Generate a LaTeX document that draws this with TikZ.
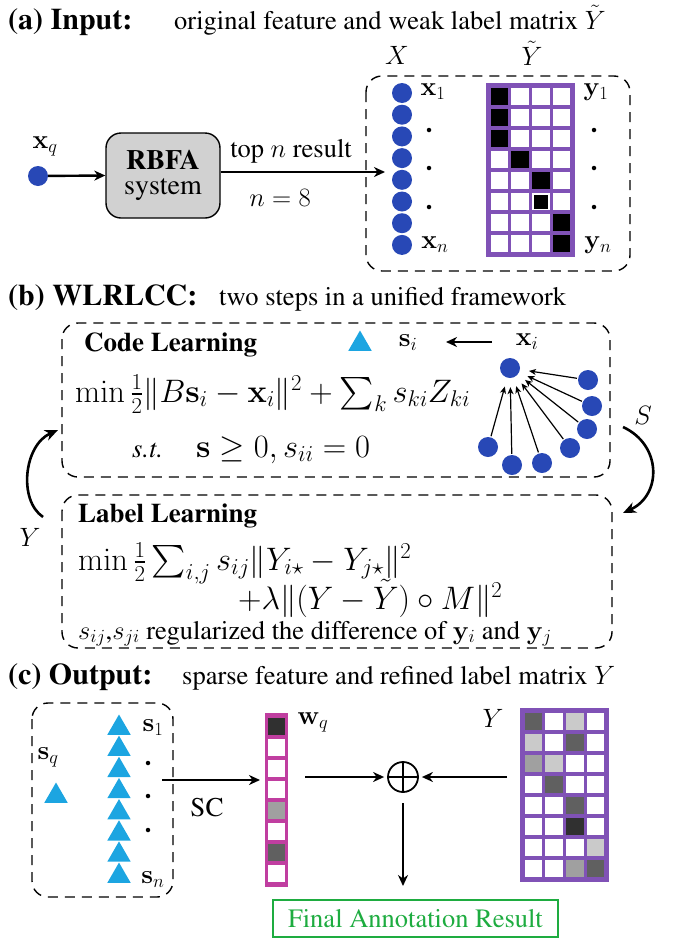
\RequirePackage{fix-cm}
\documentclass[tikz,border=0pt]{standalone}
\usepackage[T1]{fontenc}
\usepackage{times}
\DeclareFontShape{OMX}{cmex}{m}{n}{<->cmex10}{}
\usetikzlibrary{arrows.meta,shapes.geometric}
\definecolor{dotblue}{RGB}{40,72,182}
\definecolor{triblue}{RGB}{28,165,225}
\definecolor{matpurple}{RGB}{128,82,182}
\definecolor{wmag}{RGB}{192,62,160}
\definecolor{fgreen}{RGB}{30,172,64}
\definecolor{gK}{RGB}{48,48,48}
\definecolor{gD}{RGB}{96,96,96}
\definecolor{gM}{RGB}{160,160,160}
\definecolor{gL}{RGB}{202,202,202}
\begin{document}
\begin{tikzpicture}[x=1pt,y=-1pt,
  txt/.style={font=\rmfamily\fontsize{26.5}{30}\selectfont, inner sep=0pt},
  fml/.style={font=\rmfamily\fontsize{32.5}{36}\selectfont, inner sep=0pt},
  ttl/.style={font=\rmfamily\fontsize{30}{34}\selectfont\bfseries, inner sep=0pt},
  hdr/.style={font=\rmfamily\fontsize{27}{30}\selectfont\bfseries, inner sep=0pt},
  dbox/.style={draw, line width=1.4pt, dash pattern=on 10pt off 7pt, rounded corners=16pt},
  bdot/.style={circle, fill=dotblue, minimum size=20pt, inner sep=0pt},
  tri/.style={regular polygon, regular polygon sides=3, fill=triblue, minimum size=27pt, inner sep=0pt},
  arr/.style={-{Stealth[length=11pt,width=10pt,inset=3.5pt]}, line width=2.4pt},
  fan/.style={-{Stealth[length=7pt,width=6pt,inset=2pt]}, line width=1.2pt, shorten >=9pt, shorten <=1pt},
  carr/.style={-{Stealth[length=13pt,width=11pt,inset=4pt]}, line width=2.6pt},
  smalldot/.style={circle, fill=black, minimum size=4.5pt, inner sep=0pt}
]
\useasboundingbox (0,0) rectangle (673,940);

% ---------------- (a) ----------------
\node[ttl, anchor=base west] (ta) at (8,29) {(a) Input:};
\node[txt, anchor=base west] (sa) at (174,29) {original feature and weak label matrix $\tilde{Y}$};
\node[txt] (lX) at (397,55) {$X$};
\node[txt] (lYt) at (532,53) {$\tilde{Y}$};
\draw[dbox] (366,76) rectangle (630,271);

\foreach \i in {1,...,8} \node[bdot] (c\i) at (402,{93+21.7*(\i-1)}) {};
\node[txt] (lx1) at (433,92) {$\mathbf{x}_1$};
\node[txt] (lxn) at (435,245) {$\mathbf{x}_n$};
\foreach \yy [count=\k] in {130,168,207} \node[smalldot] (dx\k) at (429,\yy) {};

% weak label matrix
\fill[matpurple] (486,83) rectangle (575,257);
\foreach \r in {0,...,7} \foreach \c in {0,...,3}
  \fill[white] ({489+\c*20.75+1.6},{86+\r*21+1.6}) rectangle ++(17.5,17.8);
\foreach \r/\c in {0/0,1/0,2/0,3/1,4/2,6/3,7/3}
  \fill[black] ({489+\c*20.75+1.6},{86+\r*21+1.6}) rectangle ++(17.5,17.8);
\fill[black] ({489+2*20.75+3.5},{86+5*21+3.5}) rectangle ++(13.5,14);
\node[txt] (ly1) at (596,92) {$\mathbf{y}_1$};
\node[txt] (lyn) at (598,245) {$\mathbf{y}_n$};
\foreach \yy [count=\k] in {130,168,207} \node[smalldot] (dy\k) at (594,\yy) {};

\node[txt] (lxq) at (45,146) {$\mathbf{x}_q$};
\node[bdot] (xq) at (38,176) {};
\node[draw, line width=1.4pt, fill=black!18, rounded corners=15pt, minimum width=114pt, minimum height=85pt,
      align=center, font=\rmfamily\fontsize{28}{25}\selectfont, inner sep=0pt] (rbfa) at (163,175.5) {\textbf{RBFA}\\system};
\draw[arr] (xq) -- (rbfa.west);
\coordinate (tipA) at (385,172);
\draw[arr] (rbfa.east |- tipA) -- (tipA);
\node[txt] (topn) at (291,151) {top $n$ result};
\node[txt] (n8) at (280,198) {$n=8$};

% ---------------- (b) ----------------
\node[ttl, anchor=base west] (tb) at (8,305) {(b) WLRLCC:};
\node[txt, anchor=base west] (sb) at (219,305) {two steps in a unified framework};
\draw[dbox] (62,323) rectangle (610,477);
\node[hdr, anchor=base west] (hc) at (84,351) {Code Learning};
\node[tri] (tsi) at (360,344) {};
\node[txt] (lsi) at (408,343) {$\mathbf{s}_i$};
\node[txt] (lxi) at (527,342) {$\mathbf{x}_i$};
\coordinate (xiA) at (492,342);
\coordinate (siA) at (446,342);
\draw[arr] (xiA) -- (siA);
\node[fml, anchor=base west] (f1) at (75,402) {$\min\frac{1}{2}\|B\mathbf{s}_i-\mathbf{x}_i\|^2+\sum_k s_{ki}Z_{ki}$};
\node[txt, anchor=base west] (st) at (132,457) {\textit{s.t.}};
\node[fml, anchor=base west] (f2) at (196,457) {$\mathbf{s}\geq 0, s_{ii}=0$};

\node[bdot] (xc) at (510,368) {};
\foreach \px/\py [count=\k] in {588/380,592/406,587/429,570/448,542/463,512/465,488/447}
  \node[bdot] (o\k) at (\px,\py) {};
\foreach \k in {1,...,7} \draw[fan] (o\k) -- (xc);

\draw[dbox] (62,495) rectangle (612,648);
\node[hdr, anchor=base west] (hl) at (78,522) {Label Learning};
\node[fml, anchor=base west] (g1) at (78,570) {$\min\frac{1}{2}\sum_{i,j}s_{ij}\|Y_{i\star}-Y_{j\star}\|^2$};
\node[fml, anchor=base west] (g2) at (238,609) {$+\lambda\|(Y-\tilde{Y})\circ M\|^2$};
\node[txt, anchor=base west] (g3) at (78,639) {$s_{ij}$,$s_{ji}$ regularized the difference of $\mathbf{y}_i$ and $\mathbf{y}_j$};

\coordinate (yA) at (43,517);
\coordinate (yB) at (58,430);
\draw[carr] (yA) .. controls (18,500) and (24,445) .. (yB);
\node[txt] (lY) at (30,537) {$Y$};
\coordinate (sA) at (623,427);
\coordinate (sB) at (623,513);
\draw[carr] (sA) .. controls (662,445) and (662,495) .. (sB);
\node[txt] (lS) at (643,415) {$S$};

% ---------------- (c) ----------------
\node[ttl, anchor=base west] (tc) at (8,684) {(c) Output:};
\node[txt, anchor=base west] (sc) at (182,684) {sparse feature and refined label matrix $Y$};
\draw[dbox] (32,703) rectangle (173,897);
\node[txt] (lsq) at (48,757) {$\mathbf{s}_q$};
\node[tri] (sq) at (56,796) {};
\foreach \i in {1,...,8} \node[tri] (t\i) at (119,{728+21.15*(\i-1)}) {};
\node[txt] (ls1) at (153,728) {$\mathbf{s}_1$};
\node[txt] (lsn) at (153,880) {$\mathbf{s}_n$};
\foreach \yy [count=\k] in {763,796,830} \node[smalldot] (ds\k) at (148,\yy) {};
\coordinate (scA) at (162,780);
\coordinate (scB) at (260,780);
\draw[arr] (scA) -- (scB);
\node[font=\rmfamily\fontsize{27}{30}\selectfont, inner sep=0pt] (lSC) at (207,807) {SC};

% w_q
\fill[wmag] (265,713) rectangle (288,887);
\foreach \r in {0,...,7} \fill[white] (268.2,{716+\r*21+1.6}) rectangle ++(16.6,17.8);
\foreach \r/\cc in {0/gK,4/gM,6/gD} \fill[\cc] (268.2,{716+\r*21+1.6}) rectangle ++(16.6,17.8);
\node[txt] (lwq) at (313,722) {$\mathbf{w}_q$};

\node[circle, draw, line width=1.8pt, minimum size=30pt, inner sep=0pt] (op) at (403,777) {};
\draw[line width=1.8pt] (op.north) -- (op.south) (op.west) -- (op.east);
\coordinate (wA) at (305,777);
\draw[arr] (wA) -- ([xshift=-3pt]op.west);
\coordinate (yRA) at (507,777);
\draw[arr] (yRA) -- ([xshift=3pt]op.east);
\coordinate (opS) at (403,803);
\coordinate (fB) at (403,886);
\draw[arr] (opS) -- (fB);

% refined label matrix Y
\node[txt] (lY2) at (493,718) {$Y$};
\fill[matpurple] (520,708) rectangle (609,882);
\foreach \r in {0,...,7} \foreach \c in {0,...,3}
  \fill[white] ({523+\c*20.75+1.6},{711+\r*21+1.6}) rectangle ++(17.5,17.8);
\foreach \r/\c/\cc in {0/0/gD,0/2/gL,1/0/gL,1/2/gD,2/0/gM,2/1/gL,3/1/gD,4/2/gD,5/2/gK,6/3/gL,7/2/gM,7/3/gD}
  \fill[\cc] ({523+\c*20.75+1.6},{711+\r*21+1.6}) rectangle ++(17.5,17.8);

\node[draw=fgreen, line width=2pt, text=fgreen, minimum width=285pt, minimum height=37pt, inner sep=0pt,
      font=\rmfamily\fontsize{26.5}{30}\selectfont] (final) at (415.5,918.5) {Final Annotation Result};
\end{tikzpicture}
\end{document}
